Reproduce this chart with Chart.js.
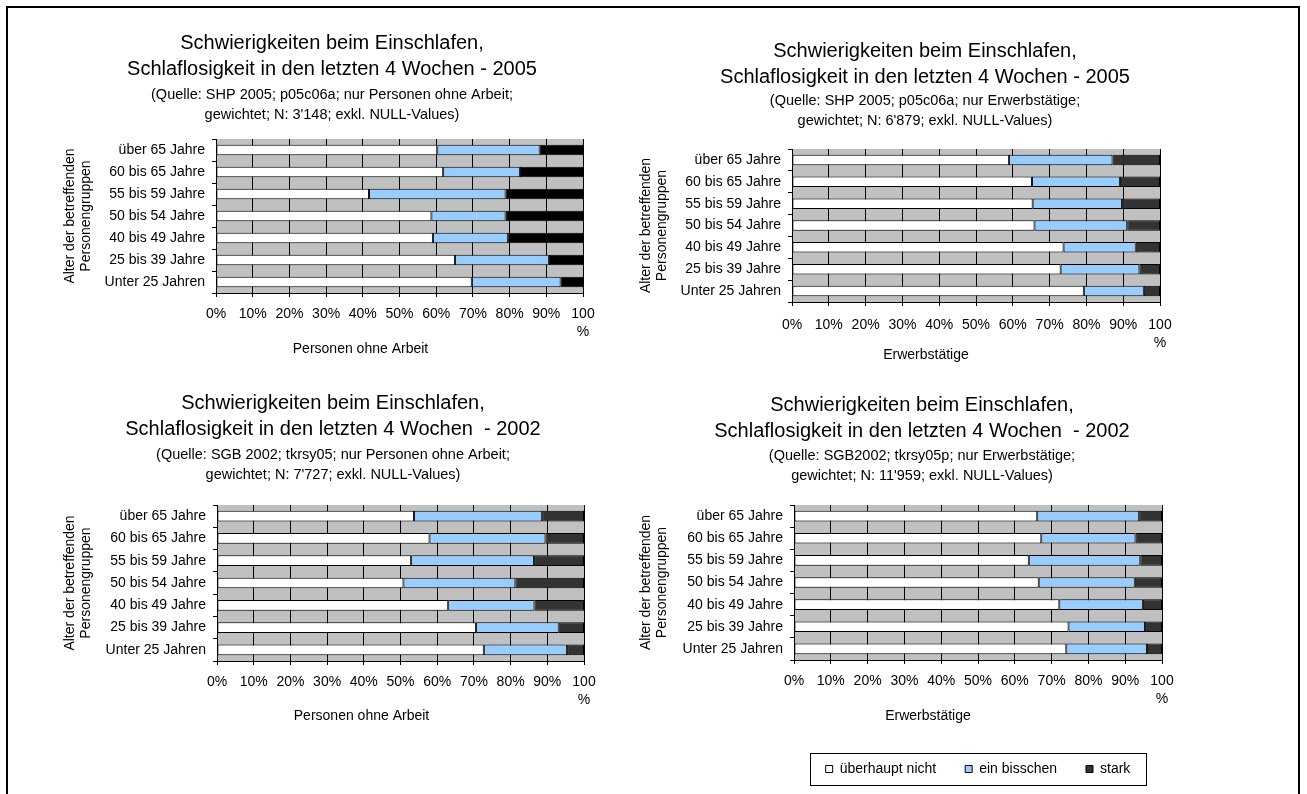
<!DOCTYPE html>
<html>
<head>
<meta charset="utf-8">
<script src="https://cdn.jsdelivr.net/npm/chart.js@4/dist/chart.umd.min.js"></script>
<style>
  html, body { margin: 0; padding: 0; background: #fff; overflow: hidden; }
  body { width: 1307px; height: 794px; position: relative; }
  .frame { position: absolute; left: 6px; top: 6px; width: 1290px; height: 820px; border: 2px solid #000; }
  .box { position: absolute; }
</style>
</head>
<body>
<div class="frame"></div>
<div class="box" style="left:10px;top:10px;width:644px;height:360px"><canvas id="c1"></canvas></div>
<div class="box" style="left:630px;top:10px;width:590px;height:370px"><canvas id="c2"></canvas></div>
<div class="box" style="left:10px;top:380px;width:646px;height:360px"><canvas id="c3"></canvas></div>
<div class="box" style="left:630px;top:380px;width:584px;height:414px"><canvas id="c4"></canvas></div>
<script>
// categories, top to bottom
const ageGroups = ['über 65 Jahre', '60 bis 65 Jahre', '55 bis 59 Jahre', '50 bis 54 Jahre',
                   '40 bis 49 Jahre', '25 bis 39 Jahre', 'Unter 25 Jahren'];
const seriesNames = ['überhaupt nicht', 'ein bisschen', 'stark'];
const xTickLabels = ['0%', '10%', '20%', '30%', '40%', '50%', '60%', '70%', '80%', '90%', ['100', '%']];
const yTitle = ['Alter der betreffenden', 'Personengruppen'];

// SHP 2005, Personen ohne Arbeit
const noWork2005None   = [60.3, 61.9, 41.7, 58.7, 59.1, 65.1, 69.7];
const noWork2005Some   = [27.9, 20.9, 37.2, 20.2, 20.5, 25.6, 24.2];
const noWork2005Strong = [11.8, 17.2, 21.1, 21.1, 20.4, 9.3, 6.1];

// SHP 2005, Erwerbstätige
const employed2005None   = [59.0, 65.2, 65.4, 65.9, 73.8, 73.0, 79.3];
const employed2005Some   = [28.1, 23.9, 24.3, 25.2, 19.6, 21.4, 16.3];
const employed2005Strong = [12.9, 10.9, 10.3, 8.9, 6.6, 5.6, 4.4];

// SGB 2002, Personen ohne Arbeit
const noWork2002None   = [53.7, 57.9, 52.9, 50.8, 63.0, 70.6, 72.7];
const noWork2002Some   = [34.9, 31.6, 33.5, 30.5, 23.5, 22.5, 22.7];
const noWork2002Strong = [11.4, 10.5, 13.6, 18.7, 13.5, 6.9, 4.6];

// SGB 2002, Erwerbstätige
const employed2002None   = [66.1, 67.2, 63.8, 66.5, 72.1, 74.6, 74.0];
const employed2002Some   = [27.7, 25.6, 30.3, 26.1, 22.7, 20.8, 21.9];
const employed2002Strong = [6.2, 7.2, 5.9, 7.4, 5.2, 4.6, 4.1];

Chart.defaults.font.family = '"Liberation Sans", Arial, sans-serif';
Chart.defaults.color = '#000';

// grey plot area like the Excel original
const plotBg = {
  id: 'plotBg',
  beforeDraw(chart) {
    const a = chart.chartArea;
    const ctx = chart.ctx;
    ctx.save();
    ctx.fillStyle = '#c0c0c0';
    ctx.fillRect(a.left, a.top, a.right - a.left, a.bottom - a.top);
    ctx.restore();
  }
};

// x axis caption, Excel puts it a bit left of the plot centre
const xCaption = {
  id: 'xCaption',
  afterDraw(chart, args, opts) {
    if (!opts.text) return;
    const a = chart.chartArea;
    const ctx = chart.ctx;
    ctx.save();
    ctx.font = '14px "Liberation Sans", Arial, sans-serif';
    ctx.fillStyle = '#000';
    ctx.textAlign = 'center';
    ctx.textBaseline = 'middle';
    ctx.fillText(opts.text, (a.left + a.right) / 2 + opts.shift, a.bottom + opts.dy);
    ctx.restore();
  }
};

// frame round the legend
const legendFrame = {
  id: 'legendFrame',
  afterDraw(chart) {
    const lg = chart.legend;
    if (!lg || !lg.options.display || !lg.legendHitBoxes || !lg.legendHitBoxes.length) return;
    const hb = lg.legendHitBoxes;
    const first = hb[0], last = hb[hb.length - 1];
    const cy = first.top + first.height / 2;
    const x0 = Math.round(first.left - 16) + 0.5;
    const x1 = Math.round(last.left + last.width + 16) + 0.5;
    const y0 = Math.round(cy - 16) + 0.5;
    const y1 = Math.round(cy + 16) + 0.5;
    const ctx = chart.ctx;
    ctx.save();
    ctx.strokeStyle = '#000';
    ctx.lineWidth = 1;
    ctx.strokeRect(x0, y0, x1 - x0, y1 - y0);
    ctx.restore();
  }
};

function makeChart(id, lay, title, subtitle, xTitle, none, some, strong, strongColor) {
  const scales = {
    x: {
      stacked: true,
      min: 0,
      max: 100,
      ticks: {
        stepSize: 10, autoSkip: false, maxRotation: 0, padding: lay.xTickPad,
        font: { size: 14, lineHeight: 18 / 14 },
        callback: (v, i) => xTickLabels[i]
      },
      grid: { color: '#000', tickLength: 4 },
      border: { color: '#000' },
      afterFit: s => { s.height = lay.xHeight; }
    },
    y: {
      stacked: true,
      ticks: { padding: 7, font: { size: 14 } },
      grid: { drawOnChartArea: false, color: '#000', tickLength: 4, offset: true },
      border: { color: '#000' },
      title: {
        display: true, text: yTitle,
        font: { size: 14, lineHeight: 16 / 14 },
        padding: { top: lay.yTitleTop, bottom: 0 }
      },
      afterFit: s => { s.width = lay.yWidth; }
    },
    // empty box on the right so the plot ends where the original does
    pad: {
      type: 'linear', position: 'right', display: true,
      grid: { display: false }, border: { display: false }, ticks: { display: false },
      afterFit: s => { s.width = lay.rightAxis; }
    }
  };

  return new Chart(document.getElementById(id), {
    type: 'bar',
    data: {
      labels: ageGroups,
      datasets: [
        { label: seriesNames[0], data: none, backgroundColor: '#ffffff' },
        { label: seriesNames[1], data: some, backgroundColor: '#99ccff' },
        { label: seriesNames[2], data: strong, backgroundColor: strongColor }
      ].map(d => Object.assign(d, {
        borderColor: '#000', borderWidth: 1, borderSkipped: false,
        categoryPercentage: 1, barPercentage: 0.48
      }))
    },
    options: {
      indexAxis: 'y',
      responsive: true,
      maintainAspectRatio: false,
      animation: false,
      layout: { padding: { left: 0, top: 0, right: 0, bottom: lay.bottomPad || 0 } },
      plugins: {
        title: {
          display: true, text: title,
          font: { size: 20, weight: 'normal', lineHeight: 1.3 },
          padding: { top: lay.titleTop, bottom: 0 }
        },
        subtitle: {
          display: true, text: subtitle,
          font: { size: 14.5, lineHeight: 20 / 14.5 },
          padding: { top: lay.subTop, bottom: lay.subBottom }
        },
        legend: {
          display: !!lay.legend,
          position: 'bottom',
          fullSize: false,
          labels: { boxWidth: 7, boxHeight: 7, padding: 29, font: { size: 14 } }
        },
        xCaption: { text: xTitle, shift: lay.captionShift, dy: lay.captionDy },
        tooltip: { enabled: false }
      },
      scales: scales
    },
    plugins: [plotBg, xCaption, legendFrame]
  });
}

makeChart('c1',
  { yWidth: 206, rightAxis: 71, titleTop: 20, subTop: 3, subBottom: 14, xHeight: 77, xTickPad: 8,
    yTitleTop: 52, captionShift: -39, captionDy: 56 },
  ['Schwierigkeiten beim Einschlafen,', 'Schlaflosigkeit in den letzten 4 Wochen - 2005'],
  ['(Quelle: SHP 2005; p05c06a; nur Personen ohne Arbeit;', "gewichtet; N: 3'148; exkl. NULL-Values)"],
  'Personen ohne Arbeit',
  noWork2005None, noWork2005Some, noWork2005Strong, '#000000');

makeChart('c2',
  { yWidth: 162, rightAxis: 60, titleTop: 28, subTop: 1, subBottom: 18, xHeight: 78, xTickPad: 10,
    yTitleTop: 8, captionShift: -50, captionDy: 53 },
  ['Schwierigkeiten beim Einschlafen,', 'Schlaflosigkeit in den letzten 4 Wochen - 2005'],
  ['(Quelle: SHP 2005; p05c06a; nur Erwerbstätige;', "gewichtet; N: 6'879; exkl. NULL-Values)"],
  'Erwerbstätige',
  employed2005None, employed2005Some, employed2005Strong, '#333333');

makeChart('c3',
  { yWidth: 207, rightAxis: 72, titleTop: 10, subTop: 3, subBottom: 20, xHeight: 79, xTickPad: 8,
    yTitleTop: 52, captionShift: -39, captionDy: 55 },
  ['Schwierigkeiten beim Einschlafen,', 'Schlaflosigkeit in den letzten 4 Wochen  - 2002'],
  ['(Quelle: SGB 2002; tkrsy05; nur Personen ohne Arbeit;', "gewichtet; N: 7'727; exkl. NULL-Values)"],
  'Personen ohne Arbeit',
  noWork2002None, noWork2002Some, noWork2002Strong, '#333333');

makeChart('c4',
  { yWidth: 164, rightAxis: 52, bottomPad: 8, legend: true,
    titleTop: 12, subTop: 2, subBottom: 19, xHeight: 73, xTickPad: 8,
    yTitleTop: 8, captionShift: -50, captionDy: 56 },
  ['Schwierigkeiten beim Einschlafen,', 'Schlaflosigkeit in den letzten 4 Wochen  - 2002'],
  ['(Quelle: SGB2002; tkrsy05p; nur Erwerbstätige;', "gewichtet; N: 11'959; exkl. NULL-Values)"],
  'Erwerbstätige',
  employed2002None, employed2002Some, employed2002Strong, '#333333');
</script>
</body>
</html>
